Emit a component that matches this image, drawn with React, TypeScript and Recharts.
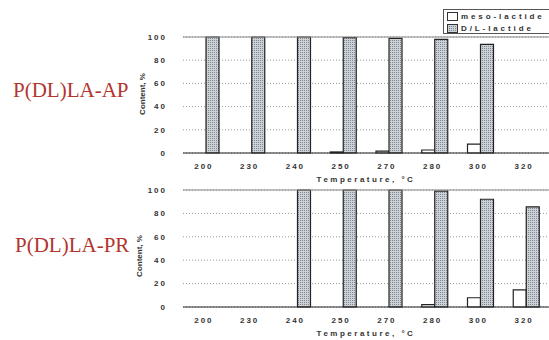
import React from 'react';
import { BarChart, Bar, XAxis, YAxis, CartesianGrid, ReferenceLine } from 'recharts';

const categories = ['200', '230', '240', '250', '270', '280', '300', '320'];
const apMeso: (number | null)[] = [0, 0, 0, 0.9, 1.7, 2.6, 7.7, null];
const apDL: (number | null)[] = [100, 100, 100, 99.5, 98.9, 98, 93.7, null];
const prMeso: (number | null)[] = [null, null, null, null, null, 2, 7.9, 14.6];
const prDL: (number | null)[] = [null, null, 100, 100, 100, 99, 92.1, 85.6];
const yTicks = [0, 20, 40, 60, 80, 100];
const seriesNames = ['meso-lactide', 'D/L-lactide'];
const panelNames = ['P(DL)LA-AP', 'P(DL)LA-PR'];

const build = (meso: (number | null)[], dl: (number | null)[]) =>
  categories.map((c, i) => ({ t: c, meso: meso[i], dl: dl[i] }));

const tickFont = {
  fontSize: 8,
  fill: '#333',
  fontWeight: 'bold',
  letterSpacing: 2,
  fontFamily: 'Liberation Sans, Arial, sans-serif',
} as const;

const LegendBox = () => (
  <div
    style={{
      position: 'absolute',
      left: 443,
      top: 9,
      border: '1px solid #555',
      borderRight: 'none',
      background: '#fff',
      width: 106,
      height: 25,
      boxSizing: 'border-box',
      padding: '1px 0 0 3px',
      fontFamily: 'Liberation Sans, Arial, sans-serif',
      fontSize: 8,
      fontWeight: 'bold',
      letterSpacing: 2.9,
      color: '#333',
      lineHeight: '11px',
      whiteSpace: 'nowrap',
    }}
  >
    {seriesNames.map((n, i) => (
      <div key={n} style={{ display: 'flex', alignItems: 'center', height: 11.5 }}>
        <svg width={11} height={9} style={{ marginRight: 3, flex: 'none' }}>
          <rect x={0.5} y={0.5} width={10} height={8} fill={i === 0 ? '#fff' : 'url(#dlPatA)'} stroke="#333" strokeWidth={1} />
        </svg>
        <span>{n}</span>
      </div>
    ))}
  </div>
);

type PanelProps = {
  meso: (number | null)[];
  dl: (number | null)[];
  height: number;
  marginTop: number;
  patId: string;
  labelOffset: number;
};

const Panel = ({ meso, dl, height, marginTop, patId, labelOffset }: PanelProps) => (
  <BarChart
    width={549}
    height={height}
    data={build(meso, dl)}
    margin={{ top: marginTop, right: 0, left: 150, bottom: 0 }}
    barGap={0}
    barSize={13}
  >
    <defs>
      <pattern id={patId} width={2} height={2} patternUnits="userSpaceOnUse">
        <rect width={2} height={2} fill="#cdd2d8" />
        <rect width={1} height={1} fill="#7f878f" />
      </pattern>
    </defs>
    <CartesianGrid vertical={false} stroke="#9a9a9a" strokeDasharray="1 2" />
    <XAxis
      dataKey="t"
      stroke="#222"
      tickLine={false}
      height={33}
      tick={{ ...tickFont, dx: -2 }}
      tickMargin={4}
      label={{
        value: 'Temperature, °C',
        position: 'insideBottom',
        offset: labelOffset,
        style: { ...tickFont, letterSpacing: 2.5, fill: '#333' },
      }}
    />
    <YAxis
      domain={[0, 100]}
      ticks={yTicks}
      axisLine={false}
      tickLine={false}
      width={33}
      interval={0}
      tick={{ ...tickFont, dx: -8 }}
    />
    <ReferenceLine y={100} stroke="#888" strokeWidth={1.2} />
    <Bar dataKey="meso" name={seriesNames[0]} fill="#fff" stroke="#222" strokeWidth={1.2} isAnimationActive={false} />
    <Bar dataKey="dl" name={seriesNames[1]} fill={`url(#${patId})`} stroke="#222" strokeWidth={1.2} isAnimationActive={false} />
  </BarChart>
);

export default function App() {
  const serif = 'Liberation Serif, Times New Roman, serif';
  return (
    <div style={{ position: 'absolute', left: 0, top: 0, width: 549, height: 340, background: '#fff', overflow: 'hidden' }}>
      <svg width={549} height={340} style={{ position: 'absolute', left: 0, top: 0 }}>
        <text x={13} y={97} fontFamily={serif} fontSize={21} fill="#b3342f">{panelNames[0]}</text>
        <text x={15} y={252} fontFamily={serif} fontSize={21} fill="#b3342f">{panelNames[1]}</text>
        <text
          transform="translate(145,94) rotate(-90)"
          textAnchor="middle"
          fontFamily="Liberation Sans, Arial, sans-serif"
          fontSize={8}
          fontWeight="bold"
          fill="#333"
        >
          Content, %
        </text>
        <text
          transform="translate(142,256) rotate(-90)"
          textAnchor="middle"
          fontFamily="Liberation Sans, Arial, sans-serif"
          fontSize={8}
          fontWeight="bold"
          fill="#333"
        >
          Content, %
        </text>
      </svg>
      <div style={{ position: 'absolute', left: 0, top: 0 }}>
        <Panel meso={apMeso} dl={apDL} height={186} marginTop={37} patId="dlPatA" labelOffset={4} />
      </div>
      <div style={{ position: 'absolute', left: 0, top: 176 }}>
        <Panel meso={prMeso} dl={prDL} height={164} marginTop={14} patId="dlPatB" labelOffset={4} />
      </div>
      <LegendBox />
    </div>
  );
}
